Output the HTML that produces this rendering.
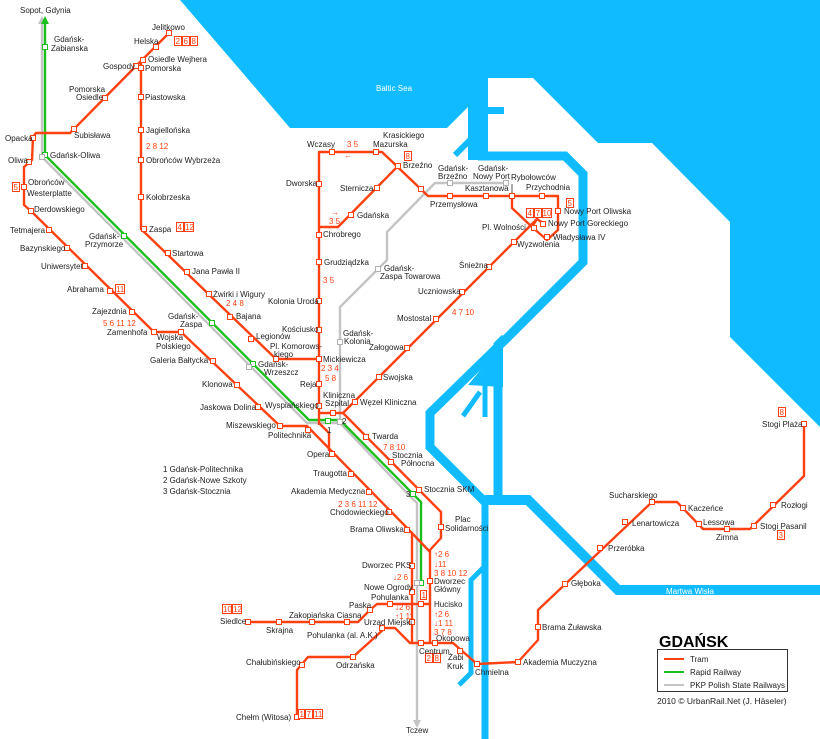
<!DOCTYPE html>
<html><head><meta charset="utf-8"><style>
body{margin:0;background:#fff}
svg{display:block}
text{font-family:"Liberation Sans",sans-serif;font-size:8px;fill:#222}
.r{fill:#ff4010}
.w{fill:#fff}
.t{fill:none;stroke:#ff4010;stroke-width:2.4;stroke-linejoin:round}
.g{fill:none;stroke:#1cc01c;stroke-width:2.4}
.p{fill:none;stroke:#c4c4c4;stroke-width:2.4}
.b{fill:none;stroke:#10bcff}
.s{fill:#fff;stroke:#ff4010;stroke-width:1}
.bx{fill:#fff;stroke:#ff4010;stroke-width:1}
</style></head><body>
<svg width="820" height="739" viewBox="0 0 820 739" xmlns="http://www.w3.org/2000/svg">
<!-- water -->
<polygon fill="#10bcff" points="180,0 820,0 820,427 730,337 730,222 652,143 598,143 533,78 488,78 488,107 504,107 504,114 488,114 488,160 468,160 468,107 447,128 290,128"/>
<g class="b" stroke-linejoin="miter">
<polyline stroke-width="9" points="478,156 565,156 583,174 583,262 510,335 430,413 430,447 485,502"/>
<polyline stroke-width="9" points="505,338 498,345 498,500"/>
<polyline stroke-width="10" points="485,500 528,500 618,590 820,590"/>
<polyline stroke-width="7" points="485,500 485,739"/>
<polyline stroke-width="5" points="485,566 471,580 471,673 459,685"/>
<polyline stroke-width="5" points="485,385 485,417"/>
<polyline stroke-width="5" points="480,392 463,416"/>
<polyline stroke-width="6" points="470,140 455,155"/>
</g>
<polygon fill="#10bcff" points="468,385 503,343 503,387"/>
<text class="w" x="376" y="91">Baltic Sea</text>
<text class="w" x="666" y="594">Martwa Wisła</text>
<text class="w" transform="translate(496,622) rotate(-90)">Motława</text>

<!-- PKP -->
<polyline class="p" points="42,22 42,157 307,423 340,423 407,493 417,503 417,722"/>
<polyline class="p" points="340,423 340,307 387,260 387,232 435,183 506,183"/>
<polygon fill="#c4c4c4" points="38,24 46,24 42,16"/>
<polygon fill="#c4c4c4" points="413,720 421,720 417,728"/>
<line x1="512" y1="184" x2="512" y2="196" stroke="#555" stroke-width="1"/>
<!-- rapid -->
<polyline class="g" points="45,22 45,155 309,420 340,420 412,493 421,502 421,583"/>
<polygon fill="#1cc01c" points="41,24 49,24 45,16"/>

<!-- trams -->
<g class="t">
<polyline points="169,33 136,66 74,129 70,133 36,133 33,137 32,160 24,167 24,205 31,211 154,332 181,332 280,426 307,426 412,533 430,552"/>
<polyline points="143,60 141,62 141,229 276,359 319,359"/>
<polyline points="319,425 319,152 382,152 428,196 558,196 558,230 547,240 532,227 537,219 543,223"/>
<polyline points="512,196 512,208 532,227"/>
<polyline points="398,166 338,227 319,227"/>
<polyline points="537,219 343,413 319,413"/>
<polyline points="319,423 329,433 329,451"/>
<polyline points="343,413 441,512 441,538 430,550 430,643"/>
<polyline points="412,533 412,643"/>
<polyline points="248,622 358,622 370,610 377,604 430,604"/>
<polyline points="297,717 297,670 308,657 353,657 385,628 395,628 410,643 453,643 477,664 518,662 538,640 538,610 652,502 677,502 703,529 750,529 804,476 804,424"/>
</g>

<!-- stations -->
<g class="s">
<rect x="166.5" y="30.5" width="5" height="5"/><rect x="153.5" y="44.5" width="5" height="5"/><rect x="140.5" y="57.5" width="5" height="5"/><rect x="133.5" y="63.5" width="5" height="5"/><rect x="102.5" y="95.5" width="5" height="5"/><rect x="71.5" y="126.5" width="5" height="5"/><rect x="30.5" y="135.5" width="5" height="5"/><rect x="26.5" y="159.5" width="5" height="5"/><rect x="21.5" y="184.5" width="5" height="5"/><rect x="28.5" y="208.5" width="5" height="5"/><rect x="46.5" y="227.5" width="5" height="5"/><rect x="64.5" y="245.5" width="5" height="5"/><rect x="82.5" y="263.5" width="5" height="5"/><rect x="107.5" y="288.5" width="5" height="5"/><rect x="129.5" y="309.5" width="5" height="5"/><rect x="151.5" y="329.5" width="5" height="5"/><rect x="178.5" y="329.5" width="5" height="5"/><rect x="210.5" y="358.5" width="5" height="5"/><rect x="234.5" y="382.5" width="5" height="5"/><rect x="255.5" y="404.5" width="5" height="5"/><rect x="277.5" y="423.5" width="5" height="5"/><rect x="305.5" y="427.5" width="5" height="5"/>
<rect x="138.5" y="65.5" width="5" height="5"/><rect x="138.5" y="94.5" width="5" height="5"/><rect x="138.5" y="127.5" width="5" height="5"/><rect x="138.5" y="157.5" width="5" height="5"/><rect x="138.5" y="194.5" width="5" height="5"/><rect x="141.5" y="226.5" width="5" height="5"/><rect x="165.5" y="250.5" width="5" height="5"/><rect x="184.5" y="269.5" width="5" height="5"/><rect x="206.5" y="291.5" width="5" height="5"/><rect x="227.5" y="314.5" width="5" height="5"/><rect x="248.5" y="336.5" width="5" height="5"/><rect x="273.5" y="356.5" width="5" height="5"/>
<rect x="329.5" y="149.5" width="5" height="5"/><rect x="373.5" y="149.5" width="5" height="5"/><rect x="395.5" y="163.5" width="5" height="5"/><rect x="418.5" y="186.5" width="5" height="5"/><rect x="447.5" y="193.5" width="5" height="5"/><rect x="483.5" y="193.5" width="5" height="5"/><rect x="509.5" y="193.5" width="5" height="5"/><rect x="539.5" y="193.5" width="5" height="5"/><rect x="555.5" y="208.5" width="5" height="5"/><rect x="540.5" y="221.5" width="5" height="5"/><rect x="544.5" y="234.5" width="5" height="5"/><rect x="531.5" y="225.5" width="5" height="5"/><rect x="511.5" y="239.5" width="5" height="5"/><rect x="486.5" y="264.5" width="5" height="5"/><rect x="459.5" y="289.5" width="5" height="5"/><rect x="433.5" y="316.5" width="5" height="5"/><rect x="404.5" y="345.5" width="5" height="5"/><rect x="376.5" y="374.5" width="5" height="5"/><rect x="352.5" y="399.5" width="5" height="5"/><rect x="330.5" y="410.5" width="5" height="5"/>
<rect x="374.5" y="185.5" width="5" height="5"/><rect x="348.5" y="212.5" width="5" height="5"/>
<rect x="316.5" y="181.5" width="5" height="5"/><rect x="316.5" y="232.5" width="5" height="5"/><rect x="316.5" y="259.5" width="5" height="5"/><rect x="316.5" y="298.5" width="5" height="5"/><rect x="316.5" y="327.5" width="5" height="5"/><rect x="316.5" y="356.5" width="5" height="5"/><rect x="316.5" y="381.5" width="5" height="5"/><rect x="316.5" y="403.5" width="5" height="5"/>
<rect x="363.5" y="434.5" width="5" height="5"/><rect x="388.5" y="459.5" width="5" height="5"/><rect x="416.5" y="487.5" width="5" height="5"/><rect x="438.5" y="524.5" width="5" height="5"/><rect x="427.5" y="578.5" width="5" height="5"/><rect x="418.5" y="601.5" width="5" height="5"/><rect x="387.5" y="601.5" width="5" height="5"/><rect x="367.5" y="607.5" width="5" height="5"/><rect x="344.5" y="619.5" width="5" height="5"/><rect x="309.5" y="619.5" width="5" height="5"/><rect x="276.5" y="619.5" width="5" height="5"/><rect x="245.5" y="619.5" width="5" height="5"/>
<rect x="329.5" y="451.5" width="5" height="5"/><rect x="348.5" y="471.5" width="5" height="5"/><rect x="366.5" y="489.5" width="5" height="5"/><rect x="386.5" y="509.5" width="5" height="5"/><rect x="404.5" y="527.5" width="5" height="5"/><rect x="409.5" y="563.5" width="5" height="5"/><rect x="409.5" y="589.5" width="5" height="5"/><rect x="409.5" y="619.5" width="5" height="5"/>
<rect x="418.5" y="640.5" width="5" height="5"/><rect x="432.5" y="640.5" width="5" height="5"/><rect x="457.5" y="648.5" width="5" height="5"/><rect x="474.5" y="661.5" width="5" height="5"/><rect x="515.5" y="659.5" width="5" height="5"/><rect x="535.5" y="624.5" width="5" height="5"/><rect x="562.5" y="581.5" width="5" height="5"/><rect x="597.5" y="545.5" width="5" height="5"/><rect x="622.5" y="519.5" width="5" height="5"/><rect x="649.5" y="499.5" width="5" height="5"/><rect x="680.5" y="505.5" width="5" height="5"/><rect x="696.5" y="521.5" width="5" height="5"/><rect x="724.5" y="526.5" width="5" height="5"/><rect x="751.5" y="523.5" width="5" height="5"/><rect x="770.5" y="502.5" width="5" height="5"/><rect x="801.5" y="421.5" width="5" height="5"/>
<rect x="379.5" y="625.5" width="5" height="5"/><rect x="350.5" y="654.5" width="5" height="5"/><rect x="299.5" y="662.5" width="5" height="5"/><rect x="294.5" y="714.5" width="5" height="5"/>
</g>
<g fill="#fff" stroke="#1cc01c" stroke-width="1">
<rect x="42.5" y="44.5" width="5" height="5"/><rect x="42.5" y="152.5" width="5" height="5"/><rect x="121.5" y="233.5" width="5" height="5"/><rect x="209.5" y="320.5" width="5" height="5"/><rect x="250.5" y="361.5" width="5" height="5"/><rect x="325.5" y="418.5" width="5" height="5"/><rect x="410.5" y="491.5" width="5" height="5"/><rect x="418.5" y="580.5" width="5" height="5"/>
</g>
<g fill="#fff" stroke="#b0b0b0" stroke-width="1">
<rect x="39.5" y="154.5" width="5" height="5"/><rect x="246.5" y="364.5" width="5" height="5"/><rect x="414.5" y="580.5" width="5" height="5"/><rect x="337.5" y="339.5" width="5" height="5"/><rect x="375.5" y="266.5" width="5" height="5"/><rect x="447.5" y="180.5" width="5" height="5"/><rect x="503.5" y="180.5" width="5" height="5"/><rect x="337.5" y="419.5" width="5" height="5"/>
</g>

<!-- boxed route numbers -->
<g class="bx">
<rect x="174.5" y="36.5" width="7" height="9"/><rect x="182.5" y="36.5" width="7" height="9"/><rect x="190.5" y="36.5" width="7" height="9"/>
<rect x="12.5" y="182.5" width="7" height="9"/>
<rect x="115.5" y="284.5" width="9" height="9"/>
<rect x="176.5" y="222.5" width="7" height="9"/><rect x="184.5" y="222.5" width="9" height="9"/>
<rect x="404.5" y="151.5" width="7" height="9"/>
<rect x="526.5" y="208.5" width="7" height="9"/><rect x="534.5" y="208.5" width="7" height="9"/><rect x="542.5" y="208.5" width="9" height="9"/>
<rect x="566.5" y="198.5" width="7" height="9"/>
<rect x="420.5" y="590.5" width="6" height="9"/>
<rect x="222.5" y="604.5" width="9" height="9"/><rect x="232.5" y="604.5" width="9" height="9"/>
<rect x="425.5" y="653.5" width="7" height="9"/><rect x="433.5" y="653.5" width="7" height="9"/>
<rect x="298.5" y="709.5" width="6" height="9"/><rect x="305.5" y="709.5" width="7" height="9"/><rect x="313.5" y="709.5" width="9" height="9"/>
<rect x="777.5" y="530.5" width="7" height="9"/>
<rect x="778.5" y="407.5" width="7" height="9"/>
</g>
<g class="r" font-size="8">
<text x="175.5" y="44" class="r">2</text><text x="183.5" y="44" class="r">6</text><text x="191.5" y="44" class="r">8</text>
<text x="13.5" y="190" class="r">5</text>
<text x="116" y="292" class="r">11</text>
<text x="177.5" y="230" class="r">4</text><text x="185" y="230" class="r">12</text>
<text x="405.5" y="159" class="r">8</text>
<text x="527.5" y="216" class="r">4</text><text x="535.5" y="216" class="r">7</text><text x="542.5" y="216" class="r">10</text>
<text x="567.5" y="206" class="r">5</text>
<text x="421.5" y="598" class="r">1</text>
<text x="223" y="612" class="r">10</text><text x="233" y="612" class="r">12</text>
<text x="426.5" y="661" class="r">2</text><text x="434.5" y="661" class="r">8</text>
<text x="299.5" y="717" class="r">1</text><text x="306.5" y="717" class="r">7</text><text x="314" y="717" class="r">11</text>
<text x="778.5" y="538" class="r">3</text>
<text x="779.5" y="415" class="r">8</text>
<text class="r" x="146" y="149">2 8 12</text>
<text class="r" x="103" y="326">5 6 11 12</text>
<text class="r" x="226" y="306">2 4 8</text>
<text class="r" x="347" y="147">3 5</text>
<text class="r" x="344" y="158">←</text>
<text class="r" x="331" y="215">→</text>
<text class="r" x="329" y="224">3 5</text>
<text class="r" x="323" y="283">3 5</text>
<text class="r" x="321" y="371">2 3 4</text>
<text class="r" x="325" y="381">5 8</text>
<text class="r" x="452" y="315">4 7 10</text>
<text class="r" x="383" y="450">7 8 10</text>
<text class="r" x="338" y="507">2 3 6 11 12</text>
<text class="r" x="434" y="557">↑2 6</text>
<text class="r" x="434" y="567">↓11</text>
<text class="r" x="434" y="576">3 8 10 12</text>
<text class="r" x="393" y="580">↓2 6</text>
<text class="r" x="395" y="610">↓2 6</text>
<text class="r" x="395" y="619">↑1 11</text>
<text class="r" x="434" y="617">↑2 6</text>
<text class="r" x="434" y="626">↓1 11</text>
<text class="r" x="434" y="635">3 7 8</text>
</g>

<!-- labels -->
<g>
<text x="20" y="13">Sopot, Gdynia</text>
<text x="54" y="42">Gdańsk-</text><text x="51" y="51">Zabianska</text>
<text x="152" y="30">Jelitkowo</text>
<text x="134" y="44">Helska</text>
<text x="148" y="62">Osiedle Wejhera</text><text x="145" y="71">Pomorska</text>
<text x="103" y="69">Gospody</text>
<text x="69" y="92">Pomorska</text><text x="76" y="100">Osiedle</text>
<text x="74" y="138">Subisława</text>
<text x="5" y="141">Opacka</text>
<text x="8" y="163">Oliwa</text>
<text x="50" y="158">Gdańsk-Oliwa</text>
<text x="28" y="185">Obrońców</text><text x="27" y="196">Westerplatte</text>
<text x="34" y="212">Derdowskiego</text>
<text x="10" y="233">Tetmajera</text>
<text x="20" y="251">Bazynskiego</text>
<text x="41" y="269">Uniwersytet</text>
<text x="67" y="292">Abrahama</text>
<text x="92" y="314">Zajezdnia</text>
<text x="107" y="335">Zamenhofa</text>
<text x="157" y="340">Wojska</text><text x="156" y="349">Polskiego</text>
<text x="150" y="363">Galeria Bałtycka</text>
<text x="202" y="387">Klonowa</text>
<text x="200" y="410">Jaskowa Dolina</text>
<text x="226" y="428">Miszewskiego</text>
<text x="268" y="438">Politechnika</text>
<text x="145" y="100">Piastowska</text>
<text x="146" y="133">Jagiellońska</text>
<text x="146" y="163">Obrońców Wybrzeża</text>
<text x="146" y="200">Kołobrzeska</text>
<text x="149" y="232">Zaspa</text>
<text x="89" y="239">Gdańsk-</text><text x="85" y="247">Przymorze</text>
<text x="172" y="256">Startowa</text>
<text x="192" y="274">Jana Pawła II</text>
<text x="213" y="297">Żwirki i Wigury</text>
<text x="236" y="319">Bajana</text>
<text x="256" y="339">Legionów</text>
<text x="270" y="349">Pl. Komorows-</text><text x="274" y="357">kiego</text>
<text x="168" y="319">Gdańsk-</text><text x="180" y="327">Zaspa</text>
<text x="258" y="367">Gdańsk-</text><text x="264" y="375">Wrzeszcz</text>
<text x="265" y="408">Wyspiańskiego</text>
<text x="307" y="147">Wczasy</text>
<text x="383" y="138">Krasickiego</text><text x="373" y="147">Mazurska</text>
<text x="403" y="168">Brzeźno</text>
<text x="286" y="186">Dworska</text>
<text x="340" y="191">Sternicza</text>
<text x="357" y="218">Gdańska</text>
<text x="323" y="237">Chrobrego</text>
<text x="324" y="265">Grudziądzka</text>
<text x="268" y="304">Kolonia Uroda</text>
<text x="282" y="332">Kościusko</text>
<text x="323" y="362">Mickiewicza</text>
<text x="300" y="387">Reja</text>
<text x="323" y="398">Kliniczna</text><text x="325" y="406">Szpital</text>
<text x="360" y="405">Węzeł Kliniczna</text>
<text x="343" y="336">Gdańsk-</text><text x="344" y="344">Kolonia</text>
<text x="384" y="271">Gdańsk-</text><text x="380" y="279">Zaspa Towarowa</text>
<text x="438" y="171">Gdańsk-</text><text x="438" y="179">Brzeźno</text>
<text x="478" y="171">Gdańsk-</text><text x="473" y="179">Nowy Port</text>
<text x="511" y="180">Rybołowców</text>
<text x="526" y="190">Przychodnia</text>
<text x="465" y="191">Kasztanowa</text>
<text x="430" y="207">Przemysłowa</text>
<text x="564" y="214">Nowy Port Oliwska</text>
<text x="548" y="226">Nowy Port Goreckiego</text>
<text x="553" y="240">Władysława IV</text>
<text x="482" y="230">Pl. Wolności</text>
<text x="517" y="247">Wyzwolenia</text>
<text x="459" y="268">Śnieżna</text>
<text x="418" y="294">Uczniowska</text>
<text x="397" y="321">Mostostal</text>
<text x="369" y="350">Załogowa</text>
<text x="383" y="380">Swojska</text>
<text x="327" y="433">1</text><text x="342" y="424">2</text><text x="406" y="497">3</text>
<text x="372" y="439">Twarda</text>
<text x="392" y="458">Stocznia</text><text x="401" y="466">Północna</text>
<text x="424" y="492">Stocznia SKM</text>
<text x="455" y="522">Plac</text><text x="445" y="531">Solidarności</text>
<text x="307" y="457">Opera</text>
<text x="313" y="476">Traugotta</text>
<text x="291" y="494">Akademia Medyczna</text>
<text x="330" y="515">Chodowieckiego</text>
<text x="350" y="532">Brama Oliwska</text>
<text x="434" y="584">Dworzec</text><text x="434" y="592">Główny</text>
<text x="362" y="568">Dworzec PKS</text>
<text x="364" y="590">Nowe Ogrody</text>
<text x="371" y="600">Pohulanka</text>
<text x="349" y="608">Paska</text>
<text x="434" y="607">Hucisko</text>
<text x="364" y="625">Urząd Miejski</text>
<text x="436" y="641">Okopowa</text>
<text x="220" y="624">Siedlce</text>
<text x="289" y="618">Zakopiańska Ciasna</text>
<text x="266" y="633">Skrajna</text>
<text x="307" y="638">Pohulanka (al. A.K.)</text>
<text x="419" y="654">Centrum</text>
<text x="448" y="660">Żabi</text><text x="447" y="669">Kruk</text>
<text x="475" y="675">Chmielna</text>
<text x="523" y="665">Akademia Muczyzna</text>
<text x="246" y="665">Chałubińskiego</text>
<text x="336" y="668">Odrzańska</text>
<text x="236" y="720">Chełm (Witosa)</text>
<text x="406" y="733">Tczew</text>
<text x="542" y="630">Brama Żuławska</text>
<text x="571" y="586">Głęboka</text>
<text x="608" y="551">Przeróbka</text>
<text x="632" y="526">Lenartowicza</text>
<text x="609" y="498">Sucharskiego</text>
<text x="688" y="511">Kaczeńce</text>
<text x="703" y="525">Lessowa</text>
<text x="716" y="540">Zimna</text>
<text x="760" y="529">Stogi Pasanil</text>
<text x="781" y="508">Rozłogi</text>
<text x="762" y="427">Stogi Plaża</text>
<text x="163" y="472">1 Gdańsk-Politechnika</text>
<text x="163" y="483">2 Gdańsk-Nowe Szkoty</text>
<text x="163" y="494">3 Gdańsk-Stocznia</text>
</g>

<!-- legend -->
<text x="659" y="647" style="font-size:16px;font-weight:bold;fill:#000">GDAŃSK</text>
<rect x="657.5" y="649.5" width="130" height="42" fill="#fff" stroke="#333" stroke-width="1"/>
<line x1="664" y1="659" x2="684" y2="659" stroke="#ff4010" stroke-width="2"/>
<line x1="664" y1="672" x2="684" y2="672" stroke="#1cc01c" stroke-width="2"/>
<line x1="664" y1="685" x2="684" y2="685" stroke="#c4c4c4" stroke-width="2"/>
<text x="690" y="662">Tram</text>
<text x="690" y="675">Rapid Railway</text>
<text x="690" y="688">PKP Polish State Railways</text>
<text x="657" y="704" style="font-size:8.5px">2010 © UrbanRail.Net (J. Häseler)</text>
</svg>
</body></html>
